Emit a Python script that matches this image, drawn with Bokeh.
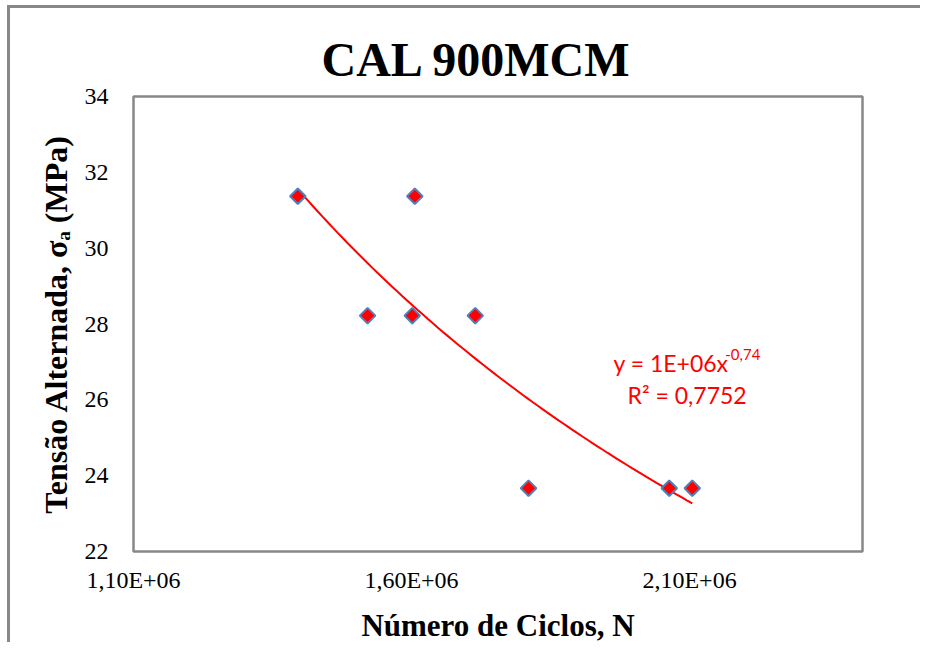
import numpy as np
from bokeh.plotting import figure
from bokeh.models import Range1d, FixedTicker, Label, ColumnDataSource
from bokeh.embed import file_html
from bokeh.resources import INLINE

# ---- data ----
cycles = [1.3955e6, 1.5209e6, 1.6013e6, 1.6059e6, 1.7146e6, 1.8104e6, 2.0635e6, 2.1049e6]
stress = [31.37, 28.22, 28.22, 31.37, 28.22, 23.67, 23.67, 23.67]

x_ticks = [1.1e6, 1.6e6, 2.1e6]
x_tick_labels = ["1,10E+06", "1,60E+06", "2,10E+06"]
y_ticks = [22, 24, 26, 28, 30, 32, 34]

title_text = "CAL 900MCM"
x_title = "Número de Ciclos, N"
y_title = "Tensão Alternada, σₐ (MPa)"
eq_main = "y = 1E+06x"
eq_exp = "-0,74"
eq_r2 = "R² = 0,7752"

# power trend line fitted to the points
lx = np.log(np.array(cycles))
ly = np.log(np.array(stress))
b, lna = np.polyfit(lx, ly, 1)
xs = np.linspace(min(cycles), max(cycles), 80)
ys = np.exp(lna) * xs ** b

SERIF = "Liberation Serif"
p = figure(width=913, height=637, output_backend="svg", toolbar_location=None,
           x_range=Range1d(1.1e6, 2.411e6), y_range=Range1d(22, 34),
           min_border_left=123, min_border_right=61, min_border_top=88, min_border_bottom=94,
           background_fill_color="white", border_fill_color="white")
p.styles = {"border-left": "3px solid #888888", "border-top": "3px solid #888888",
            "margin-left": "7px", "margin-top": "5px"}

p.title.text = title_text
p.title.text_font = SERIF
p.title.text_font_style = "bold"
p.title.text_font_size = "48px"
p.title.text_color = "black"
p.title.align = "left"
p.title.offset = 188
p.title.standoff = 22

p.outline_line_color = "#888888"
p.outline_line_width = 2.5
p.xgrid.visible = False
p.ygrid.visible = False

for ax in (p.xaxis, p.yaxis):
    ax.axis_line_color = None
    ax.major_tick_line_color = None
    ax.minor_tick_line_color = None
    ax.major_tick_out = 0
    ax.major_tick_in = 0
    ax.minor_tick_out = 0
    ax.minor_tick_in = 0
    ax.major_label_text_font = SERIF
    ax.major_label_text_font_size = "24px"
    ax.major_label_text_color = "black"
    ax.axis_label_text_font = SERIF
    ax.axis_label_text_font_style = "bold"
    ax.axis_label_text_color = "black"

p.xaxis.ticker = FixedTicker(ticks=x_ticks)
p.xaxis.major_label_overrides = {t: l for t, l in zip(x_ticks, x_tick_labels)}
p.xaxis.major_label_standoff = 15
p.xaxis.axis_label = x_title
p.xaxis.axis_label_text_font_size = "31px"
p.xaxis.axis_label_standoff = 12

p.yaxis.ticker = FixedTicker(ticks=y_ticks)
p.yaxis.major_label_standoff = 25
p.yaxis.axis_label = y_title
p.yaxis.axis_label_text_font_size = "32px"
p.yaxis.axis_label_standoff = 8

p.line(xs, ys, line_color="#FF0000", line_width=2)

src = ColumnDataSource(dict(x=cycles, y=stress))
p.scatter("x", "y", source=src, marker="square", angle=np.pi / 4, size=11,
          fill_color="#FF0000", line_color="#4F81BD", line_width=2)

FONT = "Lato"
p.add_layout(Label(x=1.9633e6, y=26.96, text=eq_main, text_font=FONT, text_font_size="23px",
                   text_color="#FF0000", text_baseline="alphabetic", text_align="left"))
p.add_layout(Label(x=2.1642e6, y=27.20, text=eq_exp, text_font=FONT, text_font_size="15px",
                   text_color="#FF0000", text_baseline="alphabetic", text_align="left"))
p.add_layout(Label(x=1.9885e6, y=26.14, text=eq_r2, text_font=FONT, text_font_size="23px",
                   text_color="#FF0000", text_baseline="alphabetic", text_align="left"))

open("out.html", "w").write(file_html(p, INLINE))
